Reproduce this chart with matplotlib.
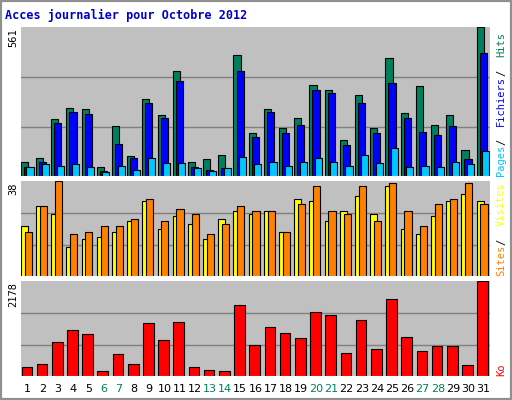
import matplotlib
matplotlib.use("Agg")
import matplotlib.pyplot as plt
import numpy as np

days = list(range(1, 32))
weekend = [6, 7, 13, 14, 20, 21, 27, 28]
hits = [58, 70, 218, 260, 256, 39, 192, 77, 291, 234, 397, 58, 66, 81, 458, 165,
        256, 184, 222, 344, 325, 138, 306, 184, 447, 241, 340, 196, 234, 100, 561]
files = [39, 55, 203, 245, 237, 24, 123, 70, 276, 222, 359, 36, 28, 32, 397, 150,
         245, 165, 196, 325, 314, 119, 279, 165, 352, 222, 169, 157, 192, 66, 466]
pages = [39, 47, 43, 47, 39, 20, 43, 28, 70, 51, 51, 32, 24, 32, 74, 47,
         55, 43, 55, 70, 55, 43, 81, 51, 108, 36, 43, 39, 55, 47, 97]
sites = [20, 28, 25, 12, 15, 16, 18, 22, 30, 19, 24, 21, 15, 23, 26, 25,
         26, 18, 31, 30, 22, 26, 32, 25, 36, 19, 17, 24, 30, 33, 30]
visits = [18, 28, 38, 17, 18, 20, 20, 23, 31, 22, 27, 25, 17, 21, 28, 26,
          26, 18, 29, 36, 26, 25, 36, 22, 37, 26, 20, 29, 31, 37, 29]
kb = [238, 286, 787, 1073, 978, 143, 525, 286, 1216, 835, 1240, 238, 167, 143, 1622, 715,
      1145, 1002, 882, 1479, 1407, 549, 1288, 644, 1765, 906, 596, 692, 692, 262, 2178]

HITS = "#007f5f"; FILES = "#0000ff"; PAGES = "#00c8ff"
SITES = "#ffff00"; VISITS = "#ff8000"; KO = "#ff0000"
BG = "#c0c0c0"; GRID = "#808080"; TEAL = "#008060"

W, H = 512, 400
fig = plt.figure(figsize=(W / 100, H / 100), dpi=100, facecolor="white")
fig.patches.append(plt.Rectangle((0, 0), 1, 1, transform=fig.transFigure,
                                 fill=False, edgecolor="#909090", lw=3))

def pax(x0, y0, x1, y1):
    return fig.add_axes([x0 / W, 1 - y1 / H, (x1 - x0) / W, (y1 - y0) / H])

def ftext(px, py, s, **kw):
    fig.text(px / W, 1 - py / H, s, **kw)

x = np.array(days)
mono = dict(rotation=90, fontsize=7.5, family="DejaVu Sans Mono", ha="center", va="bottom")

def style(ax, top, label, ytop):
    ax.set_facecolor(BG)
    ax.set_xlim(0.5, 31.5)
    ax.set_ylim(0, top * 1.01)
    for frac in (1 / 3, 2 / 3):
        ax.axhline(top * frac, color=GRID, lw=1, zorder=0)
    ax.set_xticks([]); ax.set_yticks([])
    for sp in ax.spines.values():
        sp.set_color("white"); sp.set_linewidth(1.5)
    ftext(13, ytop + 2, label, rotation=90, ha="center", va="top", fontsize=7.5,
          family="DejaVu Sans Mono")

kw = dict(edgecolor="black", lw=0.8, align="edge")

ax1 = pax(20, 26, 491, 177)
style(ax1, max(hits), str(max(hits)), 26)
ax1.bar(x - 0.45, hits, 0.47, color=HITS, **kw)
ax1.bar(x - 0.25, files, 0.47, color=FILES, **kw)
ax1.bar(x - 0.08, pages, 0.47, color=PAGES, **kw)

ax2 = pax(20, 180, 491, 277)
style(ax2, max(visits), str(max(visits)), 180)
ax2.bar(x - 0.45, sites, 0.47, color=SITES, **kw)
ax2.bar(x - 0.2, visits, 0.47, color=VISITS, **kw)

ax3 = pax(20, 280, 491, 377)
style(ax3, max(kb), str(max(kb)), 280)
ax3.bar(x - 0.4, kb, 0.7, color=KO, **kw)

for d in days:
    ax3.text(d, -0.12, str(d), transform=ax3.get_xaxis_transform(), ha="center",
             va="center", fontsize=8, color=TEAL if d in weekend else "black",
             family="DejaVu Sans")

ftext(501, 176, "Pages", color=PAGES, **mono)
ftext(501, 145, "/", color="black", **mono)
ftext(501, 126, "Fichiers", color=FILES, **mono)
ftext(501, 76, "/", color="black", **mono)
ftext(501, 57, "Hits", color=HITS, **mono)
ftext(501, 276, "Sites", color=VISITS, **mono)
ftext(501, 245, "/", color="black", **mono)
ftext(501, 226, "Visites", color=SITES, **mono)
ftext(501, 376, "Ko", color=KO, **mono)

ftext(5, 15, "Acces journalier pour Octobre 2012", color="#0000cc",
      fontsize=8.5, fontweight="bold", family="DejaVu Sans Mono", va="center")

fig.savefig("out.png", dpi=100, facecolor="white")
